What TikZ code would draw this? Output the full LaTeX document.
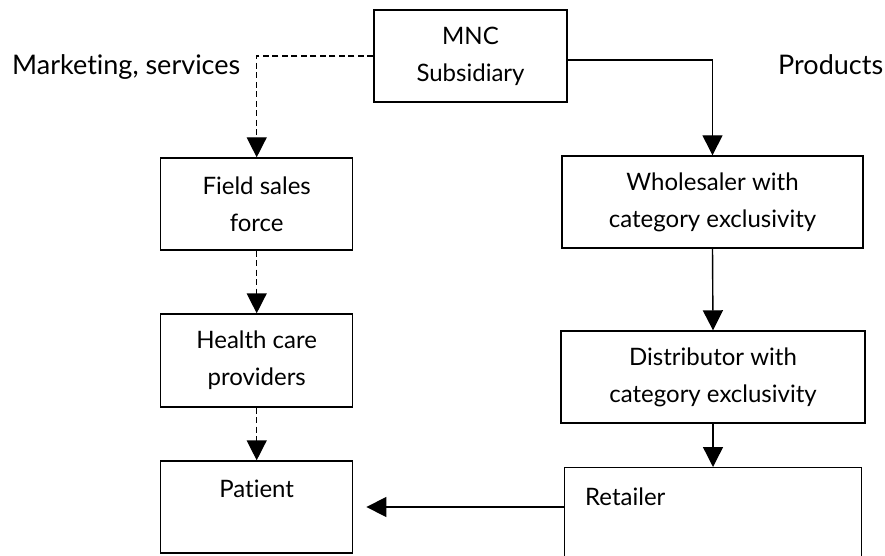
\documentclass[tikz,border=0pt]{standalone}
\usepackage{fontspec}
\setmainfont{Lato}[Ligatures={NoCommon}]
\usetikzlibrary{arrows.meta}
\begin{document}
\begin{tikzpicture}[x=1pt,y=-1pt,
  box/.style={draw, line width=1.4pt, inner sep=0pt, align=center, font=\fontsize{24}{37}\selectfont},
  big/.style={font=\fontsize{27}{34}\selectfont, inner sep=0pt},
  lbl/.style={font=\fontsize{24}{37}\selectfont, inner sep=0pt},
  conn/.style={line width=1.4pt, -{Triangle[length=20pt,width=20pt]}},
  dconn/.style={conn, dash pattern=on 6pt off 3.5pt}]
\useasboundingbox (0,0) rectangle (885,556);
\node[box, minimum width=193pt, minimum height=92pt] (mnc) at (470.5,56) {MNC\\Subsidiary};
\node[box, minimum width=192pt, minimum height=92pt] (field) at (256.7,204) {Field sales\\force};
\node[box, minimum width=192pt, minimum height=93pt] (health) at (256.7,360.5) {Health care\\providers};
\node[box, minimum width=192pt, minimum height=92pt] (pat) at (256.7,507) {Patient\\\mbox{}};
\node[box, minimum width=301pt, minimum height=92pt] (whole) at (712.5,202) {Wholesaler with\\category exclusivity};
\node[box, minimum width=304pt, minimum height=92pt] (dist) at (713,377) {Distributor with\\category exclusivity};
\node[box, minimum width=297pt, minimum height=100pt, anchor=north west] (ret) at (564,467) {};
\node[lbl, anchor=base west] (retl) at (585,505) {Retailer};
\node[big, anchor=base west] (mkt) at (12,75) {Marketing, services};
\node[big, anchor=base west] (prod) at (778,75) {Products};
\draw[dconn] (mnc.west) -| (field.north);
\draw[dconn] (field.south) -- (health.north);
\draw[dconn] (health.south) -- (pat.north);
\draw[conn] ([yshift=-4pt]mnc.east) -| (whole.north);
\draw[conn] (whole.south) -- (dist.north);
\draw[conn] (dist.south) -- (dist.south |- ret.north);
\draw[conn, shorten >=13pt] (ret.west |- pat.east) -- (pat.east);
\end{tikzpicture}
\end{document}
